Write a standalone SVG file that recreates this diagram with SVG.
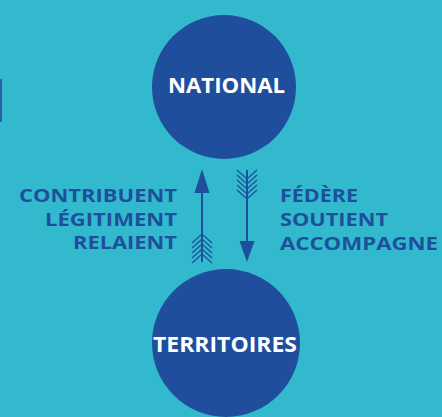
<svg xmlns="http://www.w3.org/2000/svg" width="442" height="417" viewBox="0 0 442 417">
<style>
.bg{fill:#32b9cd}
.node circle{fill:#1f4f9c}
.nl{font-family:"Open Sans","Lato",sans-serif;font-weight:700;font-size:21px;fill:#ffffff;text-anchor:middle}
.lbl{font-family:"Open Sans","Lato",sans-serif;font-weight:700;font-size:18.5px;fill:#1f4f9c}
.shaft{stroke:#1f4f9c;stroke-width:2;fill:none}
.feather{stroke:#1f4f9c;stroke-width:1.3;fill:none}
.head{fill:#1f4f9c}
</style>
<rect class="bg" x="0" y="0" width="442" height="417"/>
<rect x="0" y="79" width="2" height="43" fill="#2a62a8"/>
<g id="national" class="node">
<circle cx="224" cy="87" r="72"/>
<text class="nl" x="226.5" y="93" textLength="117" lengthAdjust="spacingAndGlyphs">NATIONAL</text>
</g>
<g id="territoires" class="node">
<circle cx="226" cy="343" r="74"/>
<text class="nl" x="225" y="352" textLength="144" lengthAdjust="spacingAndGlyphs">TERRITOIRES</text>
</g>
<g id="connectors">
<g id="arrow-up">
<line class="shaft" x1="202" y1="188" x2="202" y2="262"/>
<polygon class="head" points="202,169 209.5,193 194.5,193"/>
<path class="feather" d="M192,243 L202,234 L212,243 M192,248 L202,239 L212,248 M192,253 L202,244 L212,253 M192,258 L202,249 L212,258 M192,263 L202,254 L212,263"/>
</g>
<g id="arrow-down">
<line class="shaft" x1="247" y1="170" x2="247" y2="245"/>
<polygon class="head" points="247,262 254.5,241 239.5,241"/>
<path class="feather" d="M237,170 L247,179 L257,170 M237,175 L247,184 L257,175 M237,180 L247,189 L257,180 M237,185 L247,194 L257,185 M237,190 L247,199 L257,190"/>
</g>
</g>
<g id="labels-left" class="lbl" text-anchor="end">
<text x="177" y="202" textLength="158" lengthAdjust="spacingAndGlyphs">CONTRIBUENT</text>
<text x="177" y="226" textLength="132" lengthAdjust="spacingAndGlyphs">LÉGITIMENT</text>
<text x="177" y="249" textLength="104" lengthAdjust="spacingAndGlyphs">RELAIENT</text>
</g>
<g id="labels-right" class="lbl">
<text x="280" y="202" textLength="78" lengthAdjust="spacingAndGlyphs">FÉDÈRE</text>
<text x="280" y="226" textLength="108" lengthAdjust="spacingAndGlyphs">SOUTIENT</text>
<text x="280" y="250" textLength="158" lengthAdjust="spacingAndGlyphs">ACCOMPAGNE</text>
</g>
</svg>
